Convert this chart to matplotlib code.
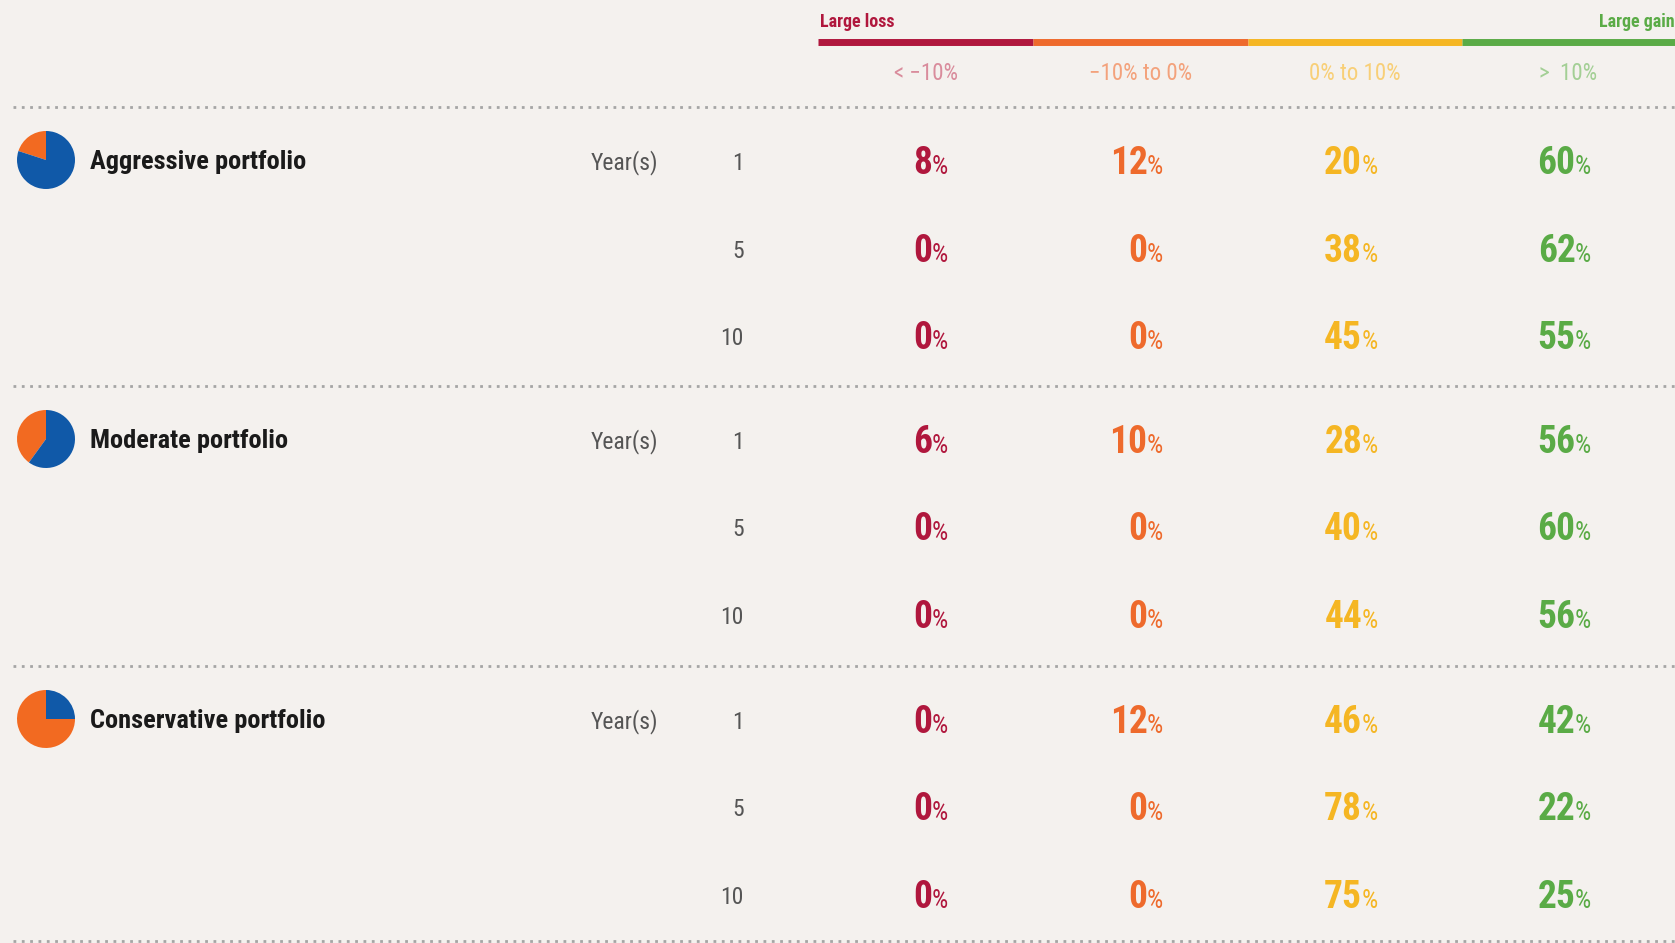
import matplotlib
matplotlib.use("Agg")
import matplotlib.pyplot as plt
from matplotlib import font_manager

# ---- data -------------------------------------------------------------
portfolios = ["Aggressive portfolio", "Moderate portfolio", "Conservative portfolio"]
bond_share = [20, 40, 75]          # orange slice of each pie icon
years = [1, 5, 10]
categories = ["< \u221210%", "\u221210% to 0%", "0% to 10%", ">  10%"]

# one value per (portfolio, year) row, in order
large_loss = [8, 0, 0, 6, 0, 0, 0, 0, 0]
small_loss = [12, 0, 0, 10, 0, 0, 12, 0, 0]
small_gain = [20, 38, 45, 28, 40, 44, 46, 78, 75]
large_gain = [60, 62, 55, 56, 60, 56, 42, 22, 25]

# ---- style ------------------------------------------------------------
BG = "#f4f1ee"
COLS = ["#b0173d", "#ee6a2c", "#f5b623", "#5aab46"]
LIGHT = ["#d98c9c", "#f3a27c", "#f8cf77", "#a3cf95"]
PIE_BLUE = "#1059a8"
PIE_ORANGE = "#f26a21"

installed = {f.name for f in font_manager.fontManager.ttflist}
FONT = next((f for f in ["Roboto Condensed", "Liberation Sans Narrow",
                         "DejaVu Sans Condensed", "Roboto"] if f in installed),
            "DejaVu Sans")
plt.rcParams["font.family"] = [FONT, "DejaVu Sans"]

W, H = 1675, 943
fig = plt.figure(figsize=(W / 100, H / 100), dpi=100, facecolor=BG)
ax = fig.add_axes([0, 0, 1, 1])
ax.set_xlim(0, W)
ax.set_ylim(H, 0)
ax.axis("off")

# layout (pixels)
seg_edges = [818, 1033, 1248, 1462, 1675]
sep_y = [107, 386, 666, 941]
row_gap = 87.5

# header: colour scale
for i in range(4):
    ax.plot([seg_edges[i], seg_edges[i + 1]], [41.5, 41.5], color=COLS[i],
            lw=5, solid_capstyle="butt")
    cx = (seg_edges[i] + seg_edges[i + 1]) / 2
    ax.text(cx, 73, categories[i], ha="center", va="center",
            fontsize=16.5, color=LIGHT[i])
ax.text(820, 22, "Large loss", ha="left", va="center", fontsize=13,
        weight="bold", color=COLS[0])
ax.text(1599, 22, "Large gain", ha="left", va="center", fontsize=13,
        weight="bold", color=COLS[3])

# dotted separators
for y in sep_y:
    ax.plot([13, W], [y, y], color="#a5a5a5", lw=2, ls=(0, (1, 2)))

series = [large_loss, small_loss, small_gain, large_gain]

for g, name in enumerate(portfolios):
    top = sep_y[g] + 53
    # pie icon
    r = 29
    pax = fig.add_axes([(46 - r) / W, 1 - (top + r) / H, 2 * r / W, 2 * r / H])
    pax.pie([bond_share[g], 100 - bond_share[g]], colors=[PIE_ORANGE, PIE_BLUE],
            startangle=90, counterclock=True, radius=1,
            wedgeprops=dict(linewidth=0))
    pax.set_xlim(-1, 1)
    pax.set_ylim(-1, 1)
    pax.set_aspect("equal")
    ax.text(90, top + 9, name, ha="left", va="baseline", fontsize=19,
            weight="bold", color="#1a1a1a")
    ax.text(658, top + 9, "Year(s)", ha="right", va="baseline", fontsize=17,
            color="#555555")
    for k, yr in enumerate(years):
        y = top + row_gap * k
        ax.text(744, y + 10, str(yr), ha="right", va="baseline", fontsize=17,
                color="#555555")
        idx = g * 3 + k
        for c in range(4):
            cx = (seg_edges[c] + seg_edges[c + 1]) / 2 + 7
            ax.text(cx, y + 14, str(series[c][idx]), ha="right", va="baseline",
                    fontsize=27, weight="bold", color=COLS[c])
            ax.text(cx - 0.5, y + 14, "%", ha="left", va="baseline",
                    fontsize=18.5, color=COLS[c])

fig.savefig("out.png", dpi=100, facecolor=BG)
